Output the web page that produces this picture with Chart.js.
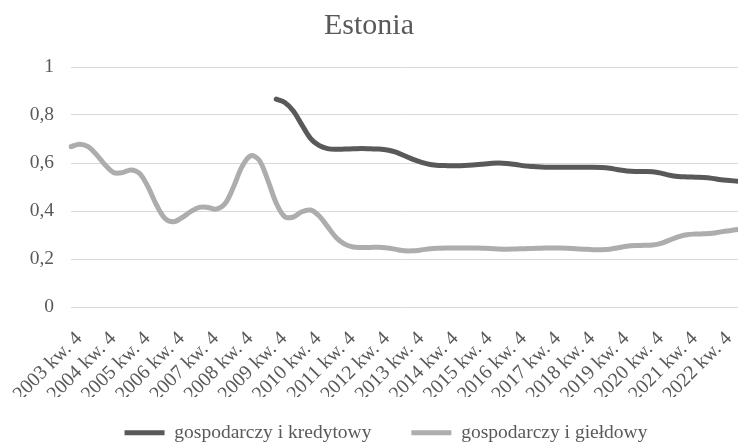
<!DOCTYPE html>
<html>
<head>
<meta charset="utf-8">
<script src="https://cdn.jsdelivr.net/npm/chart.js@4/dist/chart.umd.min.js"></script>
<style>
  html, body { margin: 0; padding: 0; background: #fff; }
  #box { width: 738px; height: 443px; }
</style>
</head>
<body>
<div id="box"><canvas id="estoniaChart"></canvas></div>
<script>
// Quarterly labels, 2003 kw. 4 .. 2023 kw. 2
const quarters = [
    '2003 kw. 4',
    '2004 kw. 1', '2004 kw. 2', '2004 kw. 3', '2004 kw. 4',
    '2005 kw. 1', '2005 kw. 2', '2005 kw. 3', '2005 kw. 4',
    '2006 kw. 1', '2006 kw. 2', '2006 kw. 3', '2006 kw. 4',
    '2007 kw. 1', '2007 kw. 2', '2007 kw. 3', '2007 kw. 4',
    '2008 kw. 1', '2008 kw. 2', '2008 kw. 3', '2008 kw. 4',
    '2009 kw. 1', '2009 kw. 2', '2009 kw. 3', '2009 kw. 4',
    '2010 kw. 1', '2010 kw. 2', '2010 kw. 3', '2010 kw. 4',
    '2011 kw. 1', '2011 kw. 2', '2011 kw. 3', '2011 kw. 4',
    '2012 kw. 1', '2012 kw. 2', '2012 kw. 3', '2012 kw. 4',
    '2013 kw. 1', '2013 kw. 2', '2013 kw. 3', '2013 kw. 4',
    '2014 kw. 1', '2014 kw. 2', '2014 kw. 3', '2014 kw. 4',
    '2015 kw. 1', '2015 kw. 2', '2015 kw. 3', '2015 kw. 4',
    '2016 kw. 1', '2016 kw. 2', '2016 kw. 3', '2016 kw. 4',
    '2017 kw. 1', '2017 kw. 2', '2017 kw. 3', '2017 kw. 4',
    '2018 kw. 1', '2018 kw. 2', '2018 kw. 3', '2018 kw. 4',
    '2019 kw. 1', '2019 kw. 2', '2019 kw. 3', '2019 kw. 4',
    '2020 kw. 1', '2020 kw. 2', '2020 kw. 3', '2020 kw. 4',
    '2021 kw. 1', '2021 kw. 2', '2021 kw. 3', '2021 kw. 4',
    '2022 kw. 1', '2022 kw. 2', '2022 kw. 3', '2022 kw. 4',
    '2023 kw. 1', '2023 kw. 2'
];

// gospodarczy i kredytowy (starts 2009 kw. 4)
const kredytowy = [
    null, null, null, null, null, null, null, null, null, null, null, null,
    null, null, null, null, null, null, null, null, null, null, null, null,
    0.866, 0.852, 0.817, 0.759, 0.703, 0.673, 0.660, 0.657, 0.658, 0.659,
    0.660, 0.659, 0.658, 0.654, 0.645, 0.630, 0.615, 0.603, 0.594, 0.590,
    0.589, 0.589, 0.590, 0.592, 0.595, 0.598, 0.600, 0.598, 0.594, 0.588,
    0.585, 0.583, 0.582, 0.582, 0.582, 0.582, 0.582, 0.582, 0.581, 0.578,
    0.572, 0.567, 0.565, 0.565, 0.564, 0.558, 0.549, 0.544, 0.542, 0.541,
    0.540, 0.536, 0.530, 0.527, 0.524
];

// gospodarczy i giełdowy
const gieldowy = [
    0.668, 0.678, 0.668, 0.634, 0.592, 0.560, 0.560, 0.571, 0.557, 0.501,
    0.425, 0.369, 0.355, 0.373, 0.397, 0.415, 0.415, 0.408, 0.430, 0.500,
    0.585, 0.630, 0.612, 0.530, 0.433, 0.376, 0.375, 0.397, 0.404, 0.380,
    0.335, 0.290, 0.262, 0.250, 0.248, 0.248, 0.249, 0.246, 0.240, 0.234,
    0.234, 0.238, 0.243, 0.245, 0.246, 0.246, 0.246, 0.246, 0.245, 0.244,
    0.242, 0.241, 0.242, 0.243, 0.244, 0.245, 0.246, 0.246, 0.245, 0.243,
    0.241, 0.239, 0.239, 0.241, 0.247, 0.253, 0.256, 0.257, 0.258, 0.265,
    0.279, 0.292, 0.301, 0.304, 0.305, 0.307, 0.313, 0.318, 0.323
];

const yTicks = [0, 0.2, 0.4, 0.6, 0.8, 1];

const serif = "'Liberation Serif', 'Times New Roman', serif";
const textColor = '#595959';

// legend: smaller reserved box, items drawn a bit higher and further right
const legendTweak = {
    id: 'legendTweak',
    afterInit(chart) {
        const lg = chart.legend;
        const fit = lg.fit.bind(lg);
        lg.fit = function () {
            fit();
            this.height = 46;
        };
    },
    afterLayout(chart) {
        const lg = chart.legend;
        lg.left += 17;
        lg.right += 17;
        lg.top -= 14;
    }
};

const ctx = document.getElementById('estoniaChart').getContext('2d');
new Chart(ctx, {
    type: 'line',
    data: {
        labels: quarters,
        datasets: [
            {
                label: 'gospodarczy i kredytowy',
                data: kredytowy,
                borderColor: '#595959',
                backgroundColor: '#595959',
                borderWidth: 5,
                borderCapStyle: 'round',
                borderJoinStyle: 'round',
                pointRadius: 0,
                tension: 0.35,
                spanGaps: false
            },
            {
                label: 'gospodarczy i giełdowy',
                data: gieldowy,
                borderColor: '#adadad',
                backgroundColor: '#adadad',
                borderWidth: 5,
                borderCapStyle: 'round',
                borderJoinStyle: 'round',
                pointRadius: 0,
                tension: 0.35
            }
        ]
    },
    options: {
        responsive: true,
        maintainAspectRatio: false,
        animation: false,
        layout: {
            padding: { left: 0, right: 0, top: 0, bottom: 0 }
        },
        plugins: {
            title: {
                display: true,
                text: 'Estonia',
                color: textColor,
                font: { family: serif, size: 30, weight: 'normal' },
                padding: { top: 8, bottom: 23 }
            },
            legend: {
                position: 'bottom',
                labels: {
                    color: textColor,
                    font: { family: serif, size: 19.5 },
                    usePointStyle: true,
                    pointStyle: 'line',
                    pointStyleWidth: 40,
                    padding: 40
                }
            },
            tooltip: { enabled: false }
        },
        scales: {
            x: {
                offset: false,
                grid: { display: false },
                border: { display: false },
                afterFit: (scale) => {
                    scale.height = 90;
                    scale.paddingLeft = 0;
                    scale.paddingRight = 0;
                },
                ticks: {
                    autoSkip: false,
                    maxRotation: 45,
                    minRotation: 45,
                    padding: 12,
                    labelOffset: 8,
                    color: textColor,
                    font: { family: serif, size: 20 },
                    callback: function (value, index) {
                        return index % 4 === 0 ? this.getLabelForValue(value) : '';
                    }
                }
            },
            y: {
                min: 0,
                max: 1,
                afterFit: (scale) => { scale.width = 71; },
                afterBuildTicks: (scale) => {
                    scale.ticks = yTicks.map(v => ({ value: v }));
                },
                grid: {
                    color: '#d9d9d9',
                    lineWidth: 1,
                    drawTicks: false
                },
                border: { display: false },
                ticks: {
                    padding: 17,
                    color: textColor,
                    font: { family: serif, size: 19.5 },
                    callback: (value) => String(Math.round(value * 10) / 10).replace('.', ',')
                }
            }
        }
    },
    plugins: [legendTweak]
});
</script>
</body>
</html>
